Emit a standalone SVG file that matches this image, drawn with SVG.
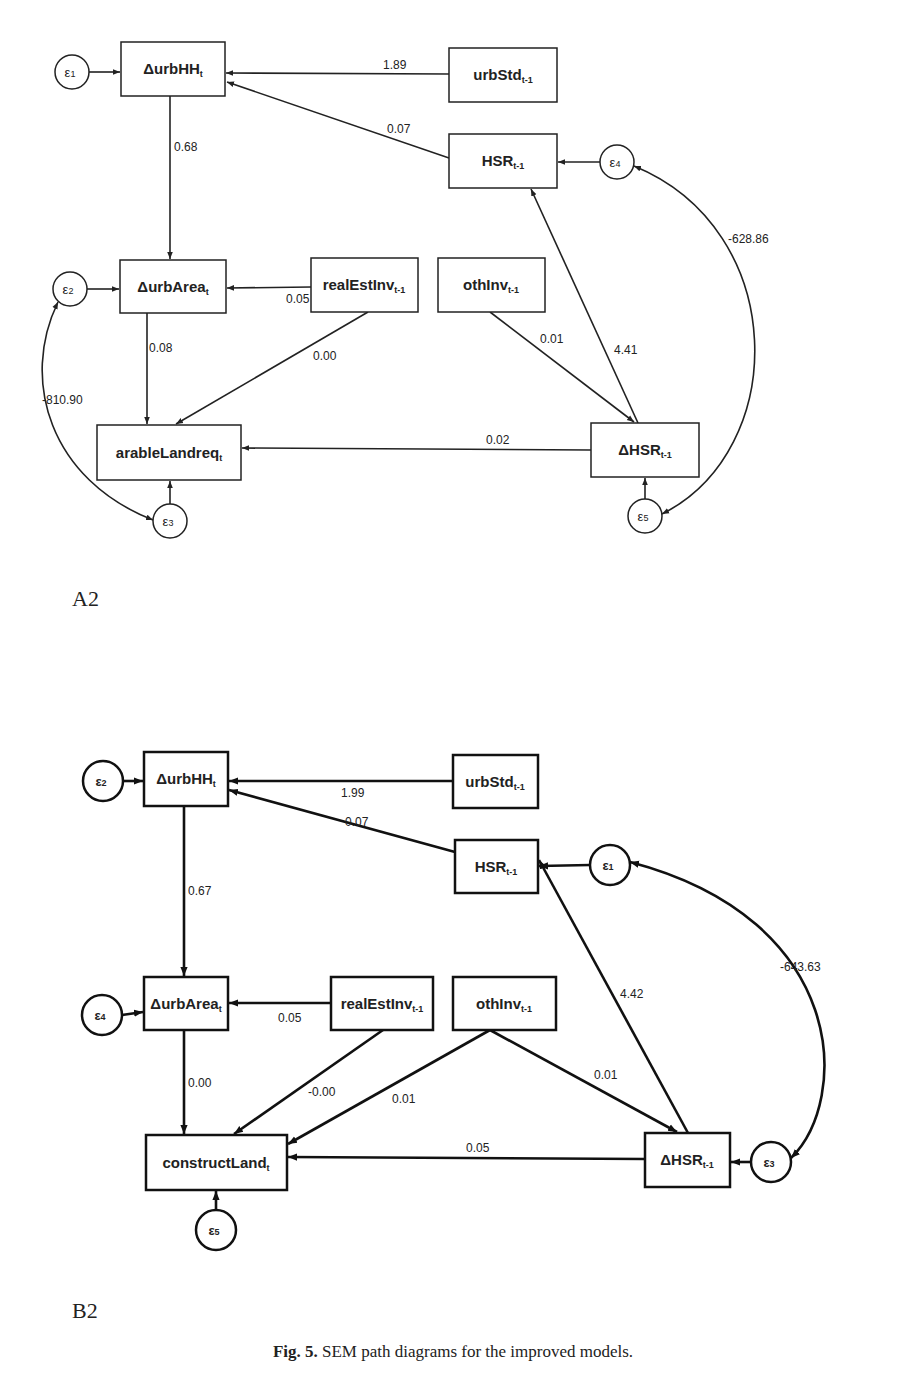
<svg xmlns="http://www.w3.org/2000/svg" width="906" height="1400" viewBox="0 0 906 1400">
<style>
.n{fill:#fff;stroke:#222;stroke-width:1.5}
.b{fill:#fff;stroke:#111;stroke-width:2.5}
.t{font-family:"Liberation Sans",Arial,sans-serif;font-weight:bold;font-size:15px;fill:#222;text-anchor:middle}
.e{font-family:"Liberation Sans",Arial,sans-serif;font-size:13px;fill:#222;text-anchor:middle}
.l{font-family:"Liberation Sans",Arial,sans-serif;font-size:12px;fill:#222}
.s{font-size:9px}
.c1 line,.c1 path{stroke:#222;stroke-width:1.6;fill:none;marker-end:url(#a)}
.c2 line,.c2 path{stroke:#111;stroke-width:2.6;fill:none;marker-end:url(#a2)}
.cap{font-family:"Liberation Serif","Times New Roman",serif;fill:#222}
</style>
<defs>
<marker id="a" viewBox="0 0 10 10" refX="10" refY="5" markerWidth="7" markerHeight="7" orient="auto-start-reverse" markerUnits="userSpaceOnUse"><path d="M0,1 L10,5 L0,9z" fill="#222"/></marker>
<marker id="a2" viewBox="0 0 10 10" refX="10" refY="5" markerWidth="9" markerHeight="9" orient="auto-start-reverse" markerUnits="userSpaceOnUse"><path d="M0,1 L10,5 L0,9z" fill="#111"/></marker>
</defs>
<rect width="906" height="1400" fill="#fff"/>

<g class="c1" id="connA">
<line x1="449" y1="74" x2="226" y2="73"/>
<line x1="449" y1="158" x2="227" y2="82"/>
<line x1="170" y1="96" x2="170" y2="259"/>
<line x1="311" y1="287" x2="227" y2="288"/>
<line x1="147" y1="313" x2="147" y2="424"/>
<line x1="368" y1="312" x2="176" y2="424"/>
<line x1="490" y1="312" x2="634" y2="422"/>
<line x1="638" y1="423" x2="531" y2="189"/>
<line x1="591" y1="450" x2="242" y2="448"/>
<line x1="89" y1="72" x2="120" y2="72"/>
<line x1="87" y1="289" x2="119" y2="289"/>
<line x1="600" y1="162" x2="558" y2="162"/>
<line x1="170" y1="504" x2="170" y2="481"/>
<line x1="645" y1="499" x2="645" y2="478"/>
<path d="M634,166 C790,230 790,450 662,514" marker-start="url(#a)"/>
<path d="M58,302 C20,380 50,480 153,520" marker-start="url(#a)"/>
</g>
<g class="l">
<text x="383" y="69">1.89</text><text x="387" y="133">0.07</text>
<text x="174" y="151">0.68</text><text x="286" y="303">0.05</text>
<text x="149" y="352">0.08</text><text x="313" y="360">0.00</text>
<text x="540" y="343">0.01</text><text x="614" y="354">4.41</text>
<text x="486" y="444">0.02</text><text x="728" y="243">-628.86</text>
<text x="42" y="404">-810.90</text>
</g>
<g id="A_e1"><circle class="n" cx="72" cy="72" r="17"/><text class="e" x="70" y="77">ε<tspan class="s">1</tspan></text></g>
<g id="A_urbHH"><rect class="n" x="121" y="42" width="104" height="54"/><text class="t" x="173" y="74">ΔurbHH<tspan class="s" dy="3">t</tspan></text></g>
<g id="A_urbStd"><rect class="n" x="449" y="48" width="108" height="54"/><text class="t" x="503" y="80">urbStd<tspan class="s" dy="3">t-1</tspan></text></g>
<g id="A_HSR"><rect class="n" x="449" y="134" width="108" height="54"/><text class="t" x="503" y="166">HSR<tspan class="s" dy="3">t-1</tspan></text></g>
<g id="A_e4"><circle class="n" cx="617" cy="162" r="17"/><text class="e" x="615" y="167">ε<tspan class="s">4</tspan></text></g>
<g id="A_urbArea"><rect class="n" x="120" y="260" width="106" height="53"/><text class="t" x="173" y="292">ΔurbArea<tspan class="s" dy="3">t</tspan></text></g>
<g id="A_e2"><circle class="n" cx="70" cy="289" r="17"/><text class="e" x="68" y="294">ε<tspan class="s">2</tspan></text></g>
<g id="A_realEst"><rect class="n" x="311" y="258" width="107" height="54"/><text class="t" x="364" y="290">realEstInv<tspan class="s" dy="3">t-1</tspan></text></g>
<g id="A_othInv"><rect class="n" x="438" y="258" width="107" height="54"/><text class="t" x="491" y="290">othInv<tspan class="s" dy="3">t-1</tspan></text></g>
<g id="A_arable"><rect class="n" x="97" y="425" width="144" height="55"/><text class="t" x="169" y="458">arableLandreq<tspan class="s" dy="3">t</tspan></text></g>
<g id="A_e3"><circle class="n" cx="170" cy="521" r="17"/><text class="e" x="168" y="526">ε<tspan class="s">3</tspan></text></g>
<g id="A_dHSR"><rect class="n" x="591" y="423" width="108" height="54"/><text class="t" x="645" y="455">ΔHSR<tspan class="s" dy="3">t-1</tspan></text></g>
<g id="A_e5"><circle class="n" cx="645" cy="516" r="17"/><text class="e" x="643" y="521">ε<tspan class="s">5</tspan></text></g>
<text class="cap" x="72" y="606" font-size="22">A2</text>

<g class="c2" id="connB">
<line x1="453" y1="781" x2="229" y2="781"/>
<line x1="455" y1="852" x2="229" y2="790"/>
<line x1="184" y1="806" x2="184" y2="976"/>
<line x1="331" y1="1003" x2="229" y2="1003"/>
<line x1="184" y1="1030" x2="184" y2="1134"/>
<line x1="383" y1="1030" x2="234" y2="1134"/>
<line x1="490" y1="1030" x2="288" y2="1144"/>
<line x1="490" y1="1030" x2="677" y2="1132"/>
<line x1="688" y1="1133" x2="539" y2="860"/>
<line x1="645" y1="1159" x2="288" y2="1157"/>
<line x1="123" y1="781" x2="143" y2="781"/>
<line x1="122" y1="1015" x2="143" y2="1012"/>
<line x1="590" y1="865" x2="539" y2="866"/>
<line x1="216" y1="1210" x2="216" y2="1191"/>
<line x1="751" y1="1162" x2="731" y2="1162"/>
<path d="M630,862 C850,920 850,1100 791,1158" marker-start="url(#a2)"/>
</g>
<g class="l">
<text x="341" y="797">1.99</text><text x="345" y="826">0.07</text>
<text x="188" y="895">0.67</text><text x="278" y="1022">0.05</text>
<text x="188" y="1087">0.00</text><text x="308" y="1096">-0.00</text>
<text x="392" y="1103">0.01</text><text x="594" y="1079">0.01</text>
<text x="620" y="998">4.42</text><text x="466" y="1152">0.05</text>
<text x="780" y="971">-643.63</text>
</g>
<g id="B_e2"><circle class="b" cx="103" cy="781" r="20"/><text class="e" x="101" y="786" font-weight="bold">ε<tspan class="s">2</tspan></text></g>
<g id="B_urbHH"><rect class="b" x="144" y="752" width="84" height="54"/><text class="t" x="186" y="784">ΔurbHH<tspan class="s" dy="3">t</tspan></text></g>
<g id="B_urbStd"><rect class="b" x="453" y="755" width="85" height="53"/><text class="t" x="495" y="787">urbStd<tspan class="s" dy="3">t-1</tspan></text></g>
<g id="B_HSR"><rect class="b" x="455" y="840" width="83" height="53"/><text class="t" x="496" y="872">HSR<tspan class="s" dy="3">t-1</tspan></text></g>
<g id="B_e1"><circle class="b" cx="610" cy="865" r="20"/><text class="e" x="608" y="870" font-weight="bold">ε<tspan class="s">1</tspan></text></g>
<g id="B_urbArea"><rect class="b" x="144" y="977" width="84" height="53"/><text class="t" x="186" y="1009">ΔurbArea<tspan class="s" dy="3">t</tspan></text></g>
<g id="B_e4"><circle class="b" cx="102" cy="1015" r="20"/><text class="e" x="100" y="1020" font-weight="bold">ε<tspan class="s">4</tspan></text></g>
<g id="B_realEst"><rect class="b" x="331" y="977" width="102" height="53"/><text class="t" x="382" y="1009">realEstInv<tspan class="s" dy="3">t-1</tspan></text></g>
<g id="B_othInv"><rect class="b" x="453" y="977" width="103" height="53"/><text class="t" x="504" y="1009">othInv<tspan class="s" dy="3">t-1</tspan></text></g>
<g id="B_construct"><rect class="b" x="146" y="1135" width="141" height="55"/><text class="t" x="216" y="1168">constructLand<tspan class="s" dy="3">t</tspan></text></g>
<g id="B_e5"><circle class="b" cx="216" cy="1230" r="20"/><text class="e" x="214" y="1235" font-weight="bold">ε<tspan class="s">5</tspan></text></g>
<g id="B_dHSR"><rect class="b" x="645" y="1133" width="85" height="54"/><text class="t" x="687" y="1165">ΔHSR<tspan class="s" dy="3">t-1</tspan></text></g>
<g id="B_e3"><circle class="b" cx="771" cy="1162" r="20"/><text class="e" x="769" y="1167" font-weight="bold">ε<tspan class="s">3</tspan></text></g>
<text class="cap" x="72" y="1318" font-size="22">B2</text>
<text class="cap" x="453" y="1357" font-size="17" text-anchor="middle"><tspan font-weight="bold">Fig. 5.</tspan> SEM path diagrams for the improved models.</text>
</svg>
